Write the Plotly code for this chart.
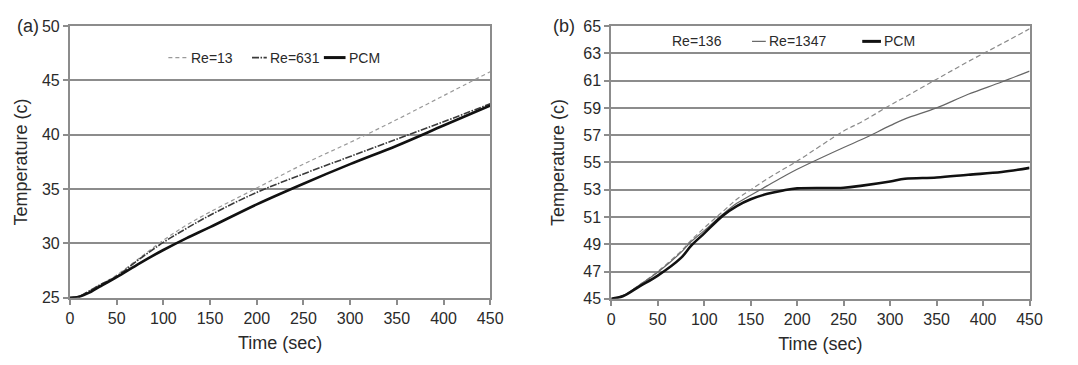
import plotly.graph_objects as go

# ---- Panel (a): low-temperature charge ----
time_a = [0, 10, 20, 30, 50, 75, 100, 125, 150, 200, 250, 300, 350, 400, 450]
re13_a = [25.0, 25.15, 25.6, 26.1, 27.1, 28.7, 30.3, 31.7, 32.9, 35.1, 37.3, 39.3, 41.4, 43.6, 45.8]
re631_a = [25.0, 25.15, 25.6, 26.1, 27.0, 28.6, 30.1, 31.4, 32.6, 34.7, 36.4, 38.0, 39.6, 41.2, 42.85]
pcm_a = [25.0, 25.1, 25.45, 25.95, 26.9, 28.2, 29.4, 30.5, 31.5, 33.6, 35.5, 37.3, 39.0, 40.85, 42.7]

# ---- Panel (b): high-temperature charge ----
time_b = [0, 13, 30, 50, 75, 86, 100, 120, 135, 150, 168, 185, 200, 250, 270,
          300, 316, 350, 384, 420, 450]
re136_b = [45.0, 45.25, 46.0, 47.0, 48.5, 49.3, 50.2, 51.4, 52.3, 53.0, 53.8, 54.5, 55.1,
           57.3, 58.0, 59.2, 59.8, 61.1, 62.4, 63.7, 64.8]
re1347_b = [45.0, 45.25, 46.0, 46.95, 48.4, 49.2, 50.0, 51.2, 52.0, 52.6, 53.3, 53.95, 54.5,
            56.1, 56.7, 57.7, 58.2, 59.0, 60.0, 60.9, 61.7]
pcm_b = [45.0, 45.2, 45.9, 46.7, 48.0, 48.9, 49.8, 51.1, 51.8, 52.3, 52.7, 52.95, 53.1,
         53.15, 53.3, 53.6, 53.8, 53.9, 54.1, 54.3, 54.6]

x_ticks = [0, 50, 100, 150, 200, 250, 300, 350, 400, 450]
y_ticks_a = [25, 30, 35, 40, 45, 50]
y_ticks_b = [45, 47, 49, 51, 53, 55, 57, 59, 61, 63, 65]

FONT = "Liberation Sans, Arial, sans-serif"
GRID = "#8c8c8c"
TXT = "#2a2a2a"

W, H = 1078, 365


def px_x(p):
    return p / W


def px_y(p):
    return 1 - p / H


# line styles shared by curves and their legend keys
STYLE = {
    "Re=13": dict(color="#9a9a9a", width=1.2, dash="4px,3px"),
    "Re=631": dict(color="#3a3a3a", width=1.6, dash="7px,1.5px,1.5px,1.5px"),
    "PCM": dict(color="#111111", width=2.6),
    "Re=136": dict(color="#8a8a8a", width=1.2, dash="5px,3px"),
    "Re=1347": dict(color="#666666", width=1.2),
}

fig = go.Figure()

for name, ys in (("Re=13", re13_a), ("Re=631", re631_a), ("PCM", pcm_a)):
    fig.add_trace(go.Scatter(x=time_a, y=ys, name=name, mode="lines", line_shape="spline",
                             line=STYLE[name], xaxis="x", yaxis="y", showlegend=False))

for name, ys in (("Re=136", re136_b), ("Re=1347", re1347_b), ("PCM", pcm_b)):
    fig.add_trace(go.Scatter(x=time_b, y=ys, name=name, mode="lines", line_shape="spline",
                             line=STYLE[name], xaxis="x2", yaxis="y2", showlegend=False))

axis_common = dict(
    showline=True, linecolor=GRID, linewidth=2, mirror=True,
    ticks="outside", ticklen=5, tickwidth=1.5, tickcolor=GRID,
    tickfont=dict(family=FONT, size=16, color=TXT),
    zeroline=False,
)
title_font = dict(family=FONT, size=18, color=TXT)

# hand-placed legend keys inside each panel
legend_a = [("Re=13", 167, 187), ("Re=631", 252, 267), ("PCM", 325, 347)]
legend_b = [("Re=136", None, 677), ("Re=1347", 760, 774), ("PCM", 872, 891)]

shapes = []
annotations = []


def add_key(name, x0, x1, y, pcm_width=None):
    if x0 is not None:
        st = dict(STYLE[name])
        if pcm_width and name == "PCM":
            st["width"] = pcm_width
        shapes.append(dict(type="line", xref="paper", yref="paper",
                           x0=px_x(x0), x1=px_x(x1), y0=px_y(y), y1=px_y(y), line=st))
        tx = x1 + 1
    else:
        tx = x1
    annotations.append(dict(text=name, x=px_x(tx), y=px_y(y), xref="paper", yref="paper",
                            xanchor="left", yanchor="middle", showarrow=False,
                            font=dict(family=FONT, size=14, color=TXT)))


for name, x0, x1 in legend_a:
    add_key(name, x0, x1, 52, pcm_width=3)
for name, x0, x1 in legend_b:
    add_key(name, x0, x1, 35, pcm_width=3)

# panel letters
for letter, cx in (("(a)", 24), ("(b)", 569)):
    annotations.append(dict(text=letter, x=px_x(cx), y=px_y(19), xref="paper", yref="paper",
                            xanchor="center", yanchor="middle", showarrow=False,
                            font=dict(family=FONT, size=18, color=TXT)))

fig.update_layout(
    width=W, height=H,
    margin=dict(l=0, r=0, t=0, b=0),
    paper_bgcolor="white", plot_bgcolor="white",
    font=dict(family=FONT, color=TXT),
    showlegend=False,
    xaxis=dict(domain=[px_x(67), px_x(494)], range=[0, 450], tickvals=x_ticks,
               showgrid=False, anchor="y",
               title=dict(text="Time (sec)", font=title_font, standoff=10),
               **axis_common),
    yaxis=dict(domain=[px_y(304), px_y(19)], range=[25, 50], tickvals=y_ticks_a,
               showgrid=True, gridcolor=GRID, gridwidth=2, anchor="x",
               title=dict(text="Temperature (c)", font=title_font, standoff=10),
               **axis_common),
    xaxis2=dict(domain=[px_x(617), px_x(1042)], range=[0, 450], tickvals=x_ticks,
                showgrid=False, anchor="y2",
                title=dict(text="Time (sec)", font=title_font, standoff=10),
                **axis_common),
    yaxis2=dict(domain=[px_y(305), px_y(19)], range=[45, 65], tickvals=y_ticks_b,
                showgrid=True, gridcolor=GRID, gridwidth=2, anchor="x2",
                title=dict(text="Temperature (c)", font=title_font, standoff=14),
                **axis_common),
    shapes=shapes,
    annotations=annotations,
)

fig.write_html("out.html")
